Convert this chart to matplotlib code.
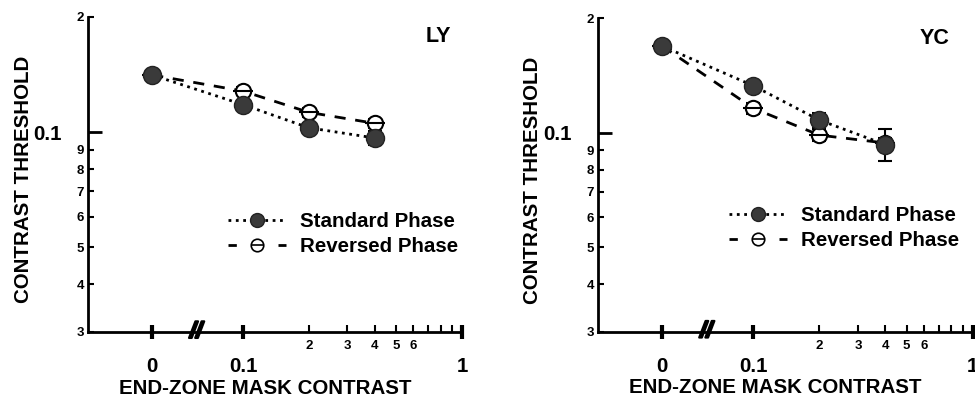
"""
Contrast threshold vs end-zone mask contrast, two observers (LY, YC),
standard vs reversed phase masks.
"""

import numpy as np
import matplotlib
matplotlib.use("Agg")
import matplotlib.pyplot as plt
import matplotlib.patheffects as pe
from matplotlib import font_manager
from matplotlib.lines import Line2D


def pick_bold_family(candidates):
    # first family that really has a bold face installed
    for fam in candidates:
        path = font_manager.findfont(font_manager.FontProperties(family=fam, weight='bold'),
                                     fallback_to_default=False)
        if path and 'bold' in path.lower():
            return fam
    return 'DejaVu Sans'


FAMILY = pick_bold_family(['Liberation Sans', 'Arimo', 'Roboto', 'Noto Sans', 'Open Sans'])
plt.rcParams['font.family'] = [FAMILY, 'DejaVu Sans']
plt.rcParams['font.weight'] = 'bold'

# mask contrast conditions (0 = no mask, drawn left of the axis break)
mask_contrast = [0, 0.1, 0.2, 0.4]

# observer LY
ly_standard = [0.141, 0.118, 0.1026, 0.0965]
ly_standard_err = [0.0, 0.003, 0.003, 0.004]
ly_reversed = [0.141, 0.128, 0.1126, 0.1054]
ly_reversed_err = [0.0, 0.003, 0.003, 0.003]

# observer YC
yc_standard = [0.169, 0.133, 0.108, 0.0931]
yc_standard_err = [0.0, 0.003, 0.005, 0.009]
yc_reversed = [0.169, 0.116, 0.0986, 0.094]
yc_reversed_err = [0.0, 0.004, 0.0037, 0.003]

y_minor_ticks = [0.03, 0.04, 0.05, 0.06, 0.07, 0.08, 0.09, 0.2]
y_minor_labels = ['3', '4', '5', '6', '7', '8', '9', '2']
x_minor_ticks = [0.2, 0.3, 0.4, 0.5, 0.6, 0.7, 0.8, 0.9]
x_minor_labels = ['2', '3', '4', '5', '6', '', '', '']

ZERO_POS = 0.0385   # where the "0" condition sits on the log axis
BREAK_POS = 0.061   # the // axis break

BIG = 14.8
SMALL = 9.5


def xpos(values):
    return [ZERO_POS if v == 0 else v for v in values]


def draw_panel(ax, name, std, std_err, rev, rev_err, legend_anchor):
    x = xpos(mask_contrast)

    ax.errorbar(x, rev, yerr=rev_err, fmt='none', ecolor='black',
                elinewidth=1.5, capsize=4.8, capthick=1.5, zorder=2)
    ax.plot(x, rev, color='black', lw=2, dashes=(4, 3.5),
            marker='o', ms=11, mfc='white', mec='black', mew=1.5, zorder=3)
    ax.plot(x, rev, ls='none', marker='_', ms=15, mec='black', mew=1.5, zorder=4)

    ax.errorbar(x, std, yerr=std_err, fmt='none', ecolor='black',
                elinewidth=1.5, capsize=4.8, capthick=1.5, zorder=5)
    ax.plot(x, std, color='black', lw=2, ls=':',
            marker='o', ms=13, mfc='#3a3a3a', mec='#222222', mew=1, zorder=6)

    ax.set_xscale('log')
    ax.set_yscale('log')
    ax.set_xlim(0.0196, 1.0)
    ax.set_ylim(0.03, 0.2)

    for side in ('top', 'right'):
        ax.spines[side].set_visible(False)
    for side in ('left', 'bottom'):
        ax.spines[side].set_linewidth(2)

    ax.set_yticks([0.1])
    ax.set_yticklabels(['0.1'], fontsize=BIG, fontweight='bold')
    ax.set_yticks(y_minor_ticks, minor=True)
    ax.set_yticklabels(y_minor_labels, minor=True, fontsize=SMALL, fontweight='bold')
    ax.tick_params(axis='y', which='major', direction='in', length=10, width=2, pad=19)
    ax.tick_params(axis='y', which='minor', direction='in', length=4, width=1.5, pad=3)

    ax.set_xticks([ZERO_POS, 0.1, 1.0])
    ax.set_xticklabels(['0', '0.1', '1'], fontsize=BIG, fontweight='bold')
    ax.set_xticks(x_minor_ticks, minor=True)
    ax.set_xticklabels(x_minor_labels, minor=True, fontsize=SMALL, fontweight='bold')
    ax.tick_params(axis='x', which='major', direction='inout', length=10, width=3, pad=13)
    ax.tick_params(axis='x', which='minor', direction='in', length=5, width=1.5, pad=6)

    # axis break
    ax.text(BREAK_POS, 0.03, '//', fontsize=16, fontweight='bold', style='italic',
            ha='center', va='center', clip_on=False, zorder=7,
            path_effects=[pe.withStroke(linewidth=1.6, foreground='black')])

    ax.set_ylabel('CONTRAST THRESHOLD', fontsize=BIG, fontweight='bold')
    ax.yaxis.set_label_coords(-0.148, 0.483)
    ax.set_xlabel('END-ZONE MASK CONTRAST', fontsize=BIG, fontweight='bold')
    ax.xaxis.set_label_coords(0.473, -0.148)

    ax.text(legend_anchor[2], 0.937, name, transform=ax.transAxes,
            fontsize=15.5, fontweight='bold', ha='center', va='center')

    # legend handles
    h_std = Line2D([], [], color='black', lw=2, ls=':', marker='o', ms=10,
                   mfc='#3a3a3a', mec='#222222')
    h_rev = Line2D([], [], color='black', lw=2, dashes=(3, 6), marker='o', ms=9,
                   mfc='white', mec='black', mew=1.2)
    h_bar = Line2D([], [], ls='none', marker='_', ms=9, mec='black', mew=1.2)
    ax.legend([h_std, (h_rev, h_bar)], ['Standard Phase', 'Reversed Phase'],
              loc='upper left', bbox_to_anchor=legend_anchor[:2], frameon=False,
              prop={'size': BIG, 'weight': 'bold'}, handlelength=2.8,
              handletextpad=0.7, labelspacing=0.3, borderpad=0, borderaxespad=0)


fig = plt.figure(figsize=(9.75, 3.99), dpi=100)
ax1 = fig.add_axes([0.0903, 0.168, 0.3835, 0.7894])
ax2 = fig.add_axes([0.6133, 0.169, 0.3844, 0.785])

draw_panel(ax1, 'LY', ly_standard, ly_standard_err, ly_reversed, ly_reversed_err,
           (0.375, 0.38, 0.936))
draw_panel(ax2, 'YC', yc_standard, yc_standard_err, yc_reversed, yc_reversed_err,
           (0.350, 0.40, 0.899))

fig.savefig('out.png', dpi=100)
